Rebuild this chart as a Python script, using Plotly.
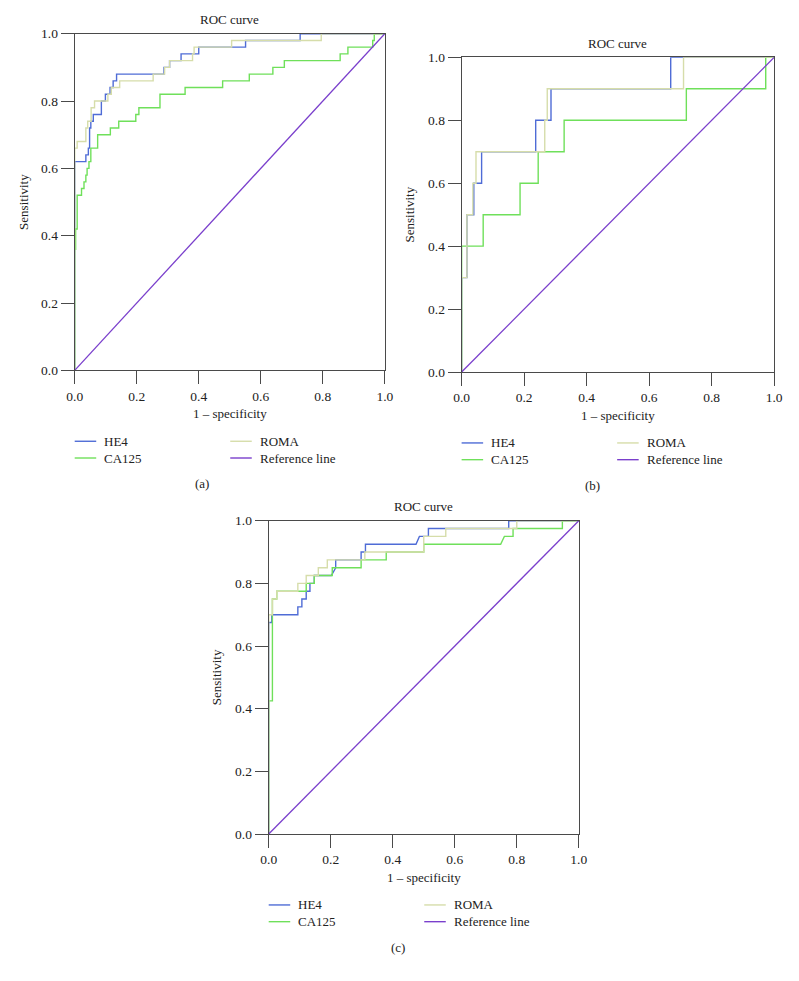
import plotly.graph_objects as go

# page is 799x981; the browser adds an 8px body margin, so the figure is sized to fit inside it
PAGE_W, PAGE_H, BODY_M = 799, 981, 8
W, H = PAGE_W - 2 * BODY_M, PAGE_H - 2 * BODY_M

# ---------------- data ----------------
# Panel (a)
a_he4_fpr = [0, 0, 0.036, 0.036, 0.044, 0.044, 0.048, 0.048, 0.052, 0.052, 0.060, 0.060, 0.086, 0.086,
             0.099, 0.099, 0.114, 0.114, 0.124, 0.124, 0.135, 0.135, 0.288, 0.288, 0.306, 0.306, 0.343,
             0.343, 0.400, 0.400, 0.551, 0.551, 0.727, 0.727, 1.0]
a_he4_tpr = [0, 0.62, 0.62, 0.64, 0.64, 0.66, 0.66, 0.72, 0.72, 0.74, 0.74, 0.76, 0.76, 0.80,
             0.80, 0.82, 0.82, 0.84, 0.84, 0.86, 0.86, 0.88, 0.88, 0.90, 0.90, 0.92, 0.92,
             0.94, 0.94, 0.96, 0.96, 0.98, 0.98, 1.0, 1.0]
a_ca125_fpr = [0, 0, 0.003, 0.003, 0.008, 0.008, 0.022, 0.022, 0.030, 0.030, 0.036, 0.036, 0.040, 0.040,
               0.046, 0.046, 0.052, 0.052, 0.074, 0.074, 0.115, 0.115, 0.142, 0.142, 0.197, 0.197,
               0.207, 0.207, 0.275, 0.275, 0.356, 0.356, 0.477, 0.477, 0.563, 0.563, 0.639, 0.639,
               0.676, 0.676, 0.856, 0.856, 0.881, 0.881, 0.961, 0.961, 0.966, 0.966, 1.0]
a_ca125_tpr = [0, 0.36, 0.36, 0.42, 0.42, 0.52, 0.52, 0.54, 0.54, 0.56, 0.56, 0.58, 0.58, 0.60,
               0.60, 0.62, 0.62, 0.66, 0.66, 0.70, 0.70, 0.72, 0.72, 0.74, 0.74, 0.76,
               0.76, 0.78, 0.78, 0.82, 0.82, 0.84, 0.84, 0.86, 0.86, 0.88, 0.88, 0.90,
               0.90, 0.92, 0.92, 0.94, 0.94, 0.96, 0.96, 0.98, 0.98, 1.0, 1.0]
a_roma_fpr = [0, 0, 0.008, 0.008, 0.036, 0.036, 0.042, 0.042, 0.053, 0.053, 0.064, 0.064, 0.107, 0.107,
              0.118, 0.118, 0.145, 0.145, 0.253, 0.253, 0.290, 0.290, 0.306, 0.306, 0.380, 0.380,
              0.385, 0.385, 0.506, 0.506, 0.795, 0.795, 1.0]
a_roma_tpr = [0, 0.66, 0.66, 0.68, 0.68, 0.72, 0.72, 0.74, 0.74, 0.78, 0.78, 0.80, 0.80, 0.82,
              0.82, 0.84, 0.84, 0.86, 0.86, 0.88, 0.88, 0.90, 0.90, 0.92, 0.92, 0.94,
              0.94, 0.96, 0.96, 0.98, 0.98, 1.0, 1.0]

# Panel (b)
b_he4_fpr = [0, 0, 0.017, 0.017, 0.039, 0.039, 0.064, 0.064, 0.237, 0.237, 0.286, 0.286, 0.669, 0.669, 1.0]
b_he4_tpr = [0, 0.3, 0.3, 0.5, 0.5, 0.6, 0.6, 0.7, 0.7, 0.8, 0.8, 0.9, 0.9, 1.0, 1.0]
b_ca125_fpr = [0, 0, 0.069, 0.069, 0.187, 0.187, 0.245, 0.245, 0.328, 0.328, 0.719, 0.719, 0.973, 0.973, 1.0]
b_ca125_tpr = [0, 0.4, 0.4, 0.5, 0.5, 0.6, 0.6, 0.7, 0.7, 0.8, 0.8, 0.9, 0.9, 1.0, 1.0]
b_roma_fpr = [0, 0, 0.017, 0.017, 0.036, 0.036, 0.046, 0.046, 0.266, 0.266, 0.274, 0.274, 0.710, 0.710, 1.0]
b_roma_tpr = [0, 0.3, 0.3, 0.5, 0.5, 0.6, 0.6, 0.7, 0.7, 0.8, 0.8, 0.9, 0.9, 1.0, 1.0]

# Panel (c)
c_he4_fpr = [0, 0, 0.010, 0.010, 0.094, 0.094, 0.107, 0.107, 0.121, 0.121, 0.133, 0.133, 0.147, 0.147,
             0.202, 0.216, 0.216, 0.298, 0.298, 0.312, 0.312, 0.475, 0.486, 0.515, 0.515, 0.774, 0.774, 1.0]
c_he4_tpr = [0, 0.675, 0.675, 0.700, 0.700, 0.725, 0.725, 0.750, 0.750, 0.775, 0.775, 0.800, 0.800, 0.825,
             0.825, 0.850, 0.875, 0.875, 0.900, 0.900, 0.925, 0.925, 0.950, 0.950, 0.975, 0.975, 1.0, 1.0]
c_ca125_fpr = [0, 0, 0.012, 0.012, 0.026, 0.026, 0.121, 0.121, 0.147, 0.147, 0.205, 0.205, 0.298, 0.298,
               0.379, 0.379, 0.500, 0.500, 0.748, 0.760, 0.788, 0.788, 0.947, 0.947, 1.0]
c_ca125_tpr = [0, 0.425, 0.425, 0.750, 0.750, 0.775, 0.775, 0.800, 0.800, 0.825, 0.825, 0.850, 0.850, 0.875,
               0.875, 0.900, 0.900, 0.925, 0.925, 0.950, 0.950, 0.975, 0.975, 1.0, 1.0]
c_roma_fpr = [0, 0, 0.012, 0.012, 0.026, 0.026, 0.094, 0.094, 0.121, 0.121, 0.160, 0.160, 0.189, 0.189,
              0.310, 0.310, 0.500, 0.500, 0.571, 0.571, 0.800, 0.800, 1.0]
c_roma_tpr = [0, 0.700, 0.700, 0.750, 0.750, 0.775, 0.775, 0.800, 0.800, 0.825, 0.825, 0.850, 0.850, 0.875,
              0.875, 0.900, 0.900, 0.950, 0.950, 0.975, 0.975, 1.0, 1.0]

ref_x = [0, 1]
ref_y = [0, 1]

tick_vals = [0.0, 0.2, 0.4, 0.6, 0.8, 1.0]
tick_text = ["0.0", "0.2", "0.4", "0.6", "0.8", "1.0"]
series_names = ["HE4", "CA125", "ROMA", "Reference line"]
panel_labels = ["(a)", "(b)", "(c)"]

# ---------------- style ----------------
COLORS = {"HE4": "#4f6cd6", "CA125": "#6fe05a", "ROMA": "#d6ddaa", "Reference line": "#7a3fcc"}
FONT = "Liberation Serif, DejaVu Serif, serif"
TXT = "#222222"
AXC = "#4a4a4a"
FS = 13


def px(x):
    return (x - BODY_M) / W


def py(y):
    return 1 - (y - BODY_M) / H


# panel boxes in page pixels: left, right, top, bottom
boxes = [
    (68, 385, 27, 369),
    (463.5, 783, 51, 370.7),
    (266.3, 583.3, 521.7, 840),
]

panel_data = [
    [(a_he4_fpr, a_he4_tpr), (a_ca125_fpr, a_ca125_tpr), (a_roma_fpr, a_roma_tpr)],
    [(b_he4_fpr, b_he4_tpr), (b_ca125_fpr, b_ca125_tpr), (b_roma_fpr, b_roma_tpr)],
    [(c_he4_fpr, c_he4_tpr), (c_ca125_fpr, c_ca125_tpr), (c_roma_fpr, c_roma_tpr)],
]

fig = go.Figure()
layout = dict(
    width=W, height=H, margin=dict(l=0, r=0, t=0, b=0),
    paper_bgcolor="white", plot_bgcolor="white", showlegend=False, hovermode=False,
    font=dict(family=FONT, size=FS, color=TXT),
)
annotations = []
shapes = []

for i, (box, pdata) in enumerate(zip(boxes, panel_data)):
    l, r, t, b = box
    xa = "xaxis" if i == 0 else f"xaxis{i+1}"
    ya = "yaxis" if i == 0 else f"yaxis{i+1}"
    xr = "x" if i == 0 else f"x{i+1}"
    yr = "y" if i == 0 else f"y{i+1}"
    common = dict(range=[0, 1], tickvals=tick_vals, ticktext=tick_text, ticks="outside",
                  ticklen=13, tickwidth=1, tickcolor=AXC, showline=True, linecolor=AXC,
                  linewidth=1, mirror=True, showgrid=False, zeroline=False,
                  tickfont=dict(family=FONT, size=13.5, color=TXT), fixedrange=True)
    layout[xa] = dict(domain=[px(l), px(r)], anchor=yr, **common)
    layout[ya] = dict(domain=[py(b), py(t)], anchor=xr, **common)

    for name, (fx, fy) in zip(series_names[:3], pdata):
        fig.add_trace(go.Scatter(x=fx, y=fy, mode="lines", name=name, xaxis=xr, yaxis=yr,
                                 line=dict(color=COLORS[name], width=1.4)))
    fig.add_trace(go.Scatter(x=ref_x, y=ref_y, mode="lines", name="Reference line", xaxis=xr, yaxis=yr,
                             line=dict(color=COLORS["Reference line"], width=1.3)))

    cx = (l + r) / 2
    annotations.append(dict(text="ROC curve", x=px(cx), y=py(t - 14), xref="paper", yref="paper",
                            showarrow=False, xanchor="center", yanchor="middle",
                            font=dict(family=FONT, size=FS, color=TXT)))
    annotations.append(dict(text="1 – specificity", x=px(cx), y=py(b + 44), xref="paper", yref="paper",
                            showarrow=False, xanchor="center", yanchor="middle",
                            font=dict(family=FONT, size=FS, color=TXT)))
    annotations.append(dict(text="Sensitivity", x=px(l - 53), y=py((t + b) / 2), xref="paper", yref="paper",
                            showarrow=False, xanchor="center", yanchor="middle", textangle=-90,
                            font=dict(family=FONT, size=FS, color=TXT)))
    row1 = b + 72
    row2 = b + 89
    col1 = l
    col2 = l + 159
    entries = [("HE4", col1, row1), ("CA125", col1, row2), ("ROMA", col2, row1), ("Reference line", col2, row2)]
    for name, lx, ly in entries:
        shapes.append(dict(type="line", xref="paper", yref="paper", x0=px(lx), x1=px(lx + 22),
                           y0=py(ly), y1=py(ly), line=dict(color=COLORS[name], width=1.4)))
        annotations.append(dict(text=name, x=px(lx + 28), y=py(ly), xref="paper", yref="paper",
                                showarrow=False, xanchor="left", yanchor="middle",
                                font=dict(family=FONT, size=FS, color=TXT)))
    annotations.append(dict(text=panel_labels[i], x=px(cx - 28 if i == 0 else cx - 26), y=py(b + 115),
                            xref="paper", yref="paper", showarrow=False, xanchor="center", yanchor="middle",
                            font=dict(family=FONT, size=FS, color=TXT)))

layout["annotations"] = annotations
layout["shapes"] = shapes
fig.update_layout(**layout)
fig.write_html("out.html", config={"displayModeBar": False, "staticPlot": True})
